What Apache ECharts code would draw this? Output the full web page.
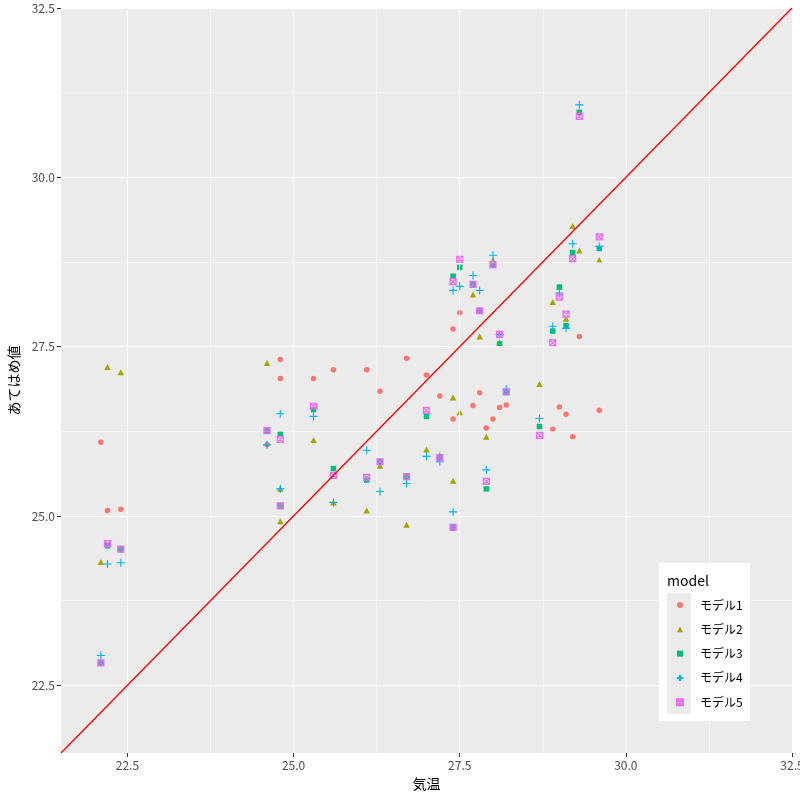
<!DOCTYPE html>
<html><head><meta charset="utf-8">
<script src="https://cdn.jsdelivr.net/npm/echarts@6/dist/echarts.min.js"></script>
<style>html,body{margin:0;padding:0;background:#fff}#c{width:800px;height:800px}</style>
</head><body><div id="c"></div>
<script>
// 気温 (x) for each observation
const temp = [22.1, 22.2, 22.4, 24.6, 24.8, 24.8, 25.3, 25.6, 26.1, 26.3, 26.7, 27.0, 27.2, 27.4, 27.4, 27.5, 27.7, 27.8, 27.9, 28.0, 28.1, 28.2, 28.7, 28.9, 29.0, 29.1, 29.2, 29.3, 29.6];
// あてはめ値 per model
const model1 = [26.09, 25.08, 25.10, 26.05, 27.31, 27.03, 27.03, 27.16, 27.16, 26.84, 27.33, 27.08, 26.77, 27.76, 26.43, 28.00, 26.63, 26.82, 26.30, 26.43, 26.60, 26.64, 26.32, 26.28, 26.61, 26.50, 26.17, 27.65, 26.56];
const model2 = [24.32, 27.20, 27.12, 27.26, 25.40, 24.92, 26.12, 25.20, 25.08, 25.74, 24.87, 25.98, 25.90, 26.75, 25.52, 26.53, 28.27, 27.65, 26.17, 28.77, 27.56, 26.83, 26.95, 28.16, 28.38, 27.91, 29.28, 28.92, 28.78];
const model3 = [22.83, 24.56, 24.51, 26.26, 26.21, 25.15, 26.57, 25.70, 25.53, 25.80, 25.58, 26.47, 25.86, 28.54, 24.83, 28.67, 28.42, 28.03, 25.40, 28.71, 27.54, 26.83, 26.32, 27.73, 28.38, 27.81, 28.89, 30.96, 28.95];
const model4 = [22.94, 24.29, 24.31, 26.05, 26.51, 25.40, 26.47, 25.20, 25.97, 25.36, 25.48, 25.88, 25.80, 28.33, 25.06, 28.39, 28.55, 28.33, 25.68, 28.85, 27.68, 26.87, 26.44, 27.80, 28.29, 27.77, 29.02, 31.07, 28.98];
const model5 = [22.83, 24.59, 24.51, 26.26, 26.13, 25.15, 26.62, 25.60, 25.57, 25.80, 25.58, 26.56, 25.86, 28.46, 24.83, 28.79, 28.42, 28.03, 25.51, 28.71, 27.68, 26.83, 26.19, 27.56, 28.23, 27.98, 28.80, 30.90, 29.12];
const modelNames = ['モデル1', 'モデル2', 'モデル3', 'モデル4', 'モデル5'];
const axisRange = [21.5, 32.5];
const majorTicks = [22.5, 25.0, 27.5, 30.0, 32.5];
const minorTicks = [23.75, 26.25, 28.75, 31.25];

const models = [model1, model2, model3, model4, model5];
const colors = ['#F8766D', '#A3A500', '#00BF7D', '#00B0F6', '#E76BF3'];
const symbols = ['circle', 'triangle', 'rect', 'path://M0,5L10,5M5,0L5,10', 'path://M0,0L10,0L10,10L0,10ZM0,0L10,10M10,0L0,10'];
const sizes = [5.5, [6.5, 6], 5.5, 8, 6];
const styles = [
  {color: colors[0]},
  {color: colors[1]},
  {color: colors[2]},
  {color: 'rgba(0,0,0,0)', borderColor: colors[3], borderWidth: 1.1},
  {color: 'rgba(0,0,0,0)', borderColor: colors[4], borderWidth: 1.2}
];
const FONT = '"Noto Sans CJK JP", "Noto Sans", sans-serif';

const chart = echarts.init(document.getElementById('c'), null, {renderer: 'canvas'});

const gridLines = [];
majorTicks.forEach(v => { gridLines.push({xAxis: v, lineStyle: {width: 1.1}}); gridLines.push({yAxis: v, lineStyle: {width: 1.1}}); });
minorTicks.forEach(v => { gridLines.push({xAxis: v, lineStyle: {width: 0.55}}); gridLines.push({yAxis: v, lineStyle: {width: 0.55}}); });

const series = [{
  type: 'line', z: 1, silent: true, symbol: 'none',
  data: [[axisRange[0], axisRange[0]], [axisRange[1], axisRange[1]]],
  lineStyle: {opacity: 0},
  markLine: {silent: true, symbol: 'none', label: {show: false}, animation: false,
    lineStyle: {color: '#FFFFFF', type: 'solid'}, data: gridLines}
}];
models.forEach((m, i) => {
  series.push({
    name: modelNames[i], type: 'scatter', z: 2 + i,
    symbol: symbols[i], symbolSize: sizes[i],
    itemStyle: Object.assign({opacity: 1}, styles[i]),
    data: temp.map((t, k) => [t, m[k]])
  });
});
series.push({
  type: 'line', z: 10, silent: true, symbol: 'none',
  data: [[axisRange[0], axisRange[0]], [axisRange[1], axisRange[1]]],
  lineStyle: {color: '#FF0000', width: 1.3}
});

const axisCommon = {
  type: 'value', min: axisRange[0], max: axisRange[1],
  axisLine: {show: false},
  axisTick: {show: true, customValues: majorTicks, length: 4, lineStyle: {color: '#333333', width: 1}},
  axisLabel: {customValues: majorTicks, color: '#4D4D4D', fontSize: 12, fontFamily: FONT, margin: 6,
    formatter: v => v.toFixed(1)},
  splitLine: {show: false},
  nameLocation: 'middle',
  nameTextStyle: {color: '#000', fontSize: 14, fontFamily: FONT}
};

chart.setOption({
  animation: false,
  backgroundColor: '#FFFFFF',
  grid: {left: 61, right: 8, top: 8, bottom: 47, show: true, backgroundColor: '#EBEBEB', borderWidth: 0,
    containLabel: false, outerBoundsMode: 'none'},
  xAxis: Object.assign({}, axisCommon, {name: '気温', nameGap: 24}),
  yAxis: Object.assign({}, axisCommon, {name: 'あてはめ値', nameGap: 40, nameRotate: 90}),
  legend: {
    orient: 'vertical', left: 676, top: 593, padding: 0, itemWidth: 6, itemHeight: 6, itemGap: 0.3,
    textStyle: {fontSize: 12, color: '#000', fontFamily: FONT, lineHeight: 24, padding: [0, 0, 0, 12]},
    data: modelNames, selectedMode: false, z: 20
  },
  graphic: [
    {type: 'rect', z: 15, shape: {x: 659, y: 563, width: 91, height: 158}, style: {fill: '#FFFFFF'}},
    {type: 'rect', z: 16, shape: {x: 667, y: 593, width: 24, height: 121}, style: {fill: '#EBEBEB'}},
    {type: 'text', z: 16, x: 667, y: 581, style: {text: 'model', fill: '#000', fontSize: 14, fontFamily: FONT, verticalAlign: 'middle'}}
  ],
  series: series
});
</script></body></html>
